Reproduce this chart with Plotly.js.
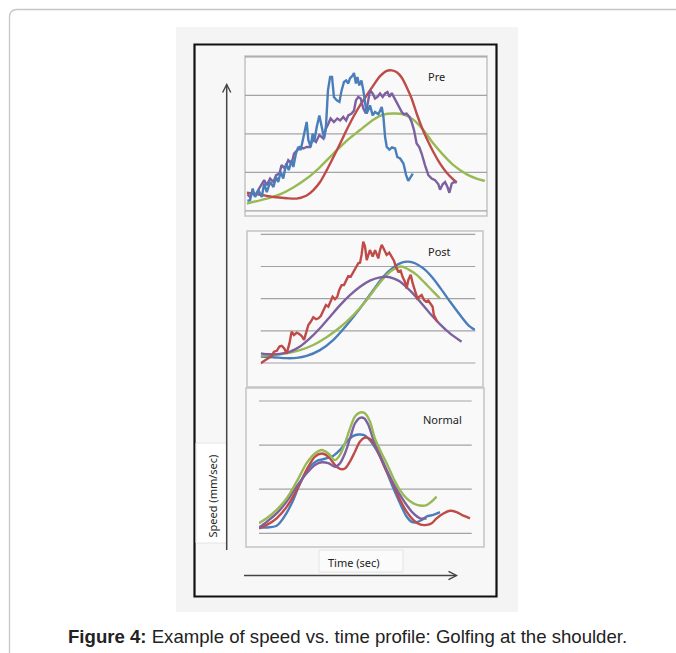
<!DOCTYPE html>
<html><head><meta charset="utf-8">
<script src="https://cdn.plot.ly/plotly-3.0.1.min.js"></script>
<style>html,body{margin:0;padding:0;background:#fff;overflow:hidden}#chart{width:676px;height:653px}</style>
</head><body><div id="chart"></div>
<script>
// ---------- DATA (time in % of swing, speed in grid units) ----------
// Pre
const preRedT = [0,5.6,11.2,16.7,20.9,25.1,27.9,30.7,33.5,36.3,39.1,41.8,44.6,47.4,50.2,53.0,55.8,58.6,60.7,62.8,64.9,66.9,69.0,71.1,73.2,75.3,78.1,80.9,83.7,86.5,87.9];
const preRedV = [0.47,0.42,0.36,0.33,0.32,0.40,0.54,0.75,1.06,1.40,1.75,2.10,2.44,2.74,3.00,3.26,3.50,3.64,3.65,3.60,3.46,3.22,2.92,2.53,2.18,1.88,1.53,1.23,0.99,0.81,0.74];
const preGreenT = [0,8.4,13.9,19.5,25.1,30.7,36.3,41.8,47.4,53.0,57.2,61.4,65.6,69.7,73.9,78.1,82.3,86.5,92.1,96.2,99.7];
const preGreenV = [0.19,0.32,0.43,0.61,0.84,1.14,1.49,1.82,2.10,2.37,2.50,2.53,2.51,2.37,2.10,1.75,1.45,1.19,0.95,0.84,0.78];
const preBlueT = [0.3,1.4,2.5,3.5,4.9,6.3,7.3,8.4,9.8,11.2,12.3,13.2,14.2,15.3,16.5,17.6,18.8,19.5,20.6,21.6,22.6,23.4,24.4,25.1,25.8,26.8,27.6,28.2,29.3,30.4,31.4,32.4,33.2,34.0,34.9,35.7,36.5,37.7,38.8,39.7,40.7,41.6,42.5,43.2,44.4,44.9,45.7,46.3,47.1,48.0,48.8,49.5,50.2,51.6,52.7,53.7,55.1,56.5,57.2,57.9,58.6,59.7,60.8,62.1,63.0,64.2,65.6,66.7,67.6,68.6,69.5];
const preBlueV = [0.26,0.28,0.58,0.36,0.54,0.36,0.71,0.49,0.75,0.62,0.88,0.75,1.01,0.84,1.23,1.06,1.32,1.14,1.49,1.66,1.58,1.84,2.10,2.31,1.84,1.66,2.01,1.79,2.18,2.48,2.18,1.88,2.23,3.13,3.48,3.48,2.96,2.87,2.83,3.13,3.35,3.39,3.31,3.44,3.52,3.58,3.31,3.48,3.26,3.39,3.13,2.87,2.53,2.74,2.48,2.57,2.51,2.70,2.44,1.92,1.66,1.59,1.65,1.62,1.40,1.36,1.23,0.93,0.78,0.88,0.97];
const prePurpleT = [0.3,1.4,2.5,3.5,4.9,6.3,7.3,8.4,9.8,11.2,12.3,13.7,14.6,16.0,17.4,18.8,19.8,21.2,22.3,23.7,25.1,26.5,27.6,29.0,30.4,32.1,33.2,34.2,35.1,36.5,37.9,39.1,40.4,41.6,42.5,43.9,44.9,45.7,46.7,47.7,48.8,49.9,50.9,51.6,52.7,53.7,54.7,55.8,56.9,57.9,58.9,59.7,60.7,61.6,62.8,63.9,64.9,65.8,66.9,68.1,69.0,70.0,71.1,72.2,73.2,74.6,76.0,77.4,78.8,80.2,80.9,82.0,83.0,84.0,84.8,85.8,86.8,87.9];
const prePurpleV = [0.43,0.36,0.49,0.38,0.55,0.71,0.80,0.67,0.84,0.75,0.93,0.97,1.19,1.10,1.32,1.23,1.49,1.58,1.66,1.62,1.66,1.66,1.88,1.79,1.97,1.88,2.14,2.27,2.40,2.31,2.40,2.35,2.44,2.35,2.48,2.53,2.61,2.87,2.96,2.92,2.66,2.53,2.96,3.13,3.05,2.92,2.96,3.05,2.96,3.05,3.09,2.96,3.06,2.96,2.79,2.70,2.57,2.51,2.53,2.44,2.31,2.10,1.75,1.66,1.49,1.19,0.93,0.84,0.80,0.69,0.55,0.69,0.75,0.62,0.47,0.71,0.75,0.74];
// Post
const postRedT = [0,2.0,3.6,5.1,6.2,7.5,8.7,9.8,10.9,12.1,13.4,14.4,15.5,16.8,18.0,19.1,20.2,21.1,22.2,23.3,24.5,25.8,26.9,28.0,29.2,30.4,31.5,32.6,33.5,34.6,35.7,36.6,37.7,38.8,39.8,40.8,41.9,42.9,43.9,44.7,45.5,46.3,47.0,47.8,48.6,49.4,50.2,50.9,52.2,53.3,54.0,54.8,55.6,56.4,57.5,58.7,59.9,61.0,62.1,63.0,64.1,65.2,66.1,67.2,68.0,68.8,69.9,70.8,71.9,73.0,73.9,75.0,76.1,77.0,78.1,79.2,80.1,80.7,81.7,82.3];
const postRedV = [-0.01,0.07,0.15,0.22,0.35,0.38,0.51,0.53,0.46,0.30,0.61,0.97,0.87,0.94,0.90,0.84,0.72,0.92,1.18,1.28,1.42,1.36,1.39,1.46,1.65,1.80,1.75,1.91,2.06,1.98,2.06,2.27,2.42,2.42,2.56,2.70,2.68,2.79,2.91,2.99,3.10,3.12,3.36,3.77,3.62,3.20,3.41,3.51,3.31,3.51,3.39,3.25,3.51,3.67,3.53,3.36,3.43,3.31,3.18,2.99,2.84,2.87,2.68,2.53,2.32,2.58,2.74,2.48,2.22,2.01,2.06,2.11,1.96,1.91,1.94,1.85,1.75,1.49,1.34,1.28];
const postBlueT = [0,5.9,12.1,16.8,21.4,27.6,33.9,40.1,46.3,52.5,57.1,61.8,65.7,68.8,71.9,75.8,79.7,83.5,88.2,92.9,96.7,99.8];
const postBlueV = [0.20,0.18,0.15,0.16,0.22,0.40,0.72,1.18,1.70,2.27,2.68,2.97,3.12,3.15,3.10,2.94,2.68,2.35,1.91,1.49,1.18,1.03];
const postGreenT = [0,5.9,12.1,18.3,24.5,30.7,37.0,43.2,49.4,54.0,58.7,62.6,65.7,68.8,72.7,76.6,80.4,83.5];
const postGreenV = [0.23,0.25,0.30,0.40,0.56,0.80,1.11,1.49,1.96,2.37,2.74,2.94,3.00,2.91,2.74,2.48,2.22,2.01];
const postPurpleT = [0,4.3,9.0,13.7,18.3,23.0,27.6,32.3,37.0,41.6,46.3,50.9,55.6,58.7,61.8,64.9,68.0,71.1,75.0,78.9,83.5,88.2,93.6];
const postPurpleV = [0.30,0.27,0.28,0.35,0.51,0.77,1.08,1.44,1.80,2.11,2.37,2.56,2.66,2.68,2.63,2.53,2.35,2.15,1.85,1.54,1.21,0.92,0.66];
// Normal
const normGreenT = [0,3.6,8.3,13.0,17.7,22.4,26.3,29.5,32.6,35.7,38.1,40.4,42.8,45.1,47.5,49.8,52.2,54.5,56.9,60.0,63.2,66.3,69.4,72.6,75.7,78.8,81.2,83.5];
const normGreenV = [0.23,0.34,0.53,0.79,1.17,1.59,1.81,1.89,1.81,1.66,1.78,2.04,2.38,2.65,2.74,2.72,2.53,2.15,1.89,1.59,1.25,0.98,0.79,0.68,0.63,0.64,0.72,0.83];
const normPurpleT = [0,3.6,8.3,13.0,17.7,22.4,26.3,29.5,32.6,35.7,38.1,40.4,42.8,45.1,47.5,49.4,51.4,53.8,56.9,60.0,63.2,66.3,69.4,72.6,75.7,78.8];
const normPurpleV = [0.13,0.26,0.45,0.72,1.06,1.36,1.55,1.61,1.59,1.51,1.59,1.81,2.15,2.49,2.62,2.61,2.46,2.12,1.78,1.44,1.13,0.87,0.64,0.45,0.34,0.34];
const normBlueT = [0,3.6,8.3,11.4,15.4,19.3,23.2,27.1,31.0,35.0,38.1,41.2,44.4,46.7,49.1,51.4,53.8,56.9,60.0,63.2,66.3,69.4,71.8,74.1,76.5,78.8,82.0,85.1];
const normBlueV = [0.13,0.13,0.17,0.34,0.68,1.13,1.47,1.64,1.69,1.76,1.89,2.08,2.21,2.24,2.23,2.15,2.00,1.74,1.40,1.02,0.68,0.38,0.26,0.25,0.30,0.38,0.42,0.48];
const normRedT = [0,3.6,8.3,13.0,17.7,22.4,26.3,29.5,32.6,35.7,38.1,40.4,42.8,45.1,47.5,49.8,52.2,54.5,56.9,60.0,63.2,66.3,69.4,72.6,75.7,78.8,81.2,83.5,86.7,89.8,92.9,96.1,99.2];
const normRedV = [0.11,0.19,0.34,0.60,0.98,1.44,1.74,1.81,1.74,1.55,1.46,1.47,1.63,1.85,2.08,2.17,2.14,2.00,1.74,1.40,1.10,0.76,0.49,0.30,0.20,0.19,0.23,0.34,0.45,0.51,0.48,0.40,0.34];

const panelLabels = ["Pre","Post","Normal"];
const yTitle = "Speed (mm/sec)";
const xTitle = "Time (sec)";
const caption = "<b>Figure 4:</b> Example of speed vs. time profile: Golfing at the shoulder.";

// ---------- LAYOUT HELPERS ----------
const W=676,H=653;
const fx=p=>p/W, fy=p=>1-p/H;
const C={blue:"#4a7ebb",red:"#be4b48",green:"#98b954",purple:"#7d60a0"};

// panel geometry: pixel of x=0, x=100, y=0, y=top, top value
const panels=[
  {xL:246.7,xR:485.7,yB:210.9,yT:56.9,top:4,box:[245,56,487,216],grid:[245,487]},
  {xL:260.7,xR:475.3,yB:363.0,yT:234.3,top:4,box:[247,231,483,387],grid:[260.7,475.3]},
  {xL:259.0,xR:471.7,yB:533.3,yT:401.0,top:3,box:[246,388,484,547],grid:[259,471.7]}
];
const layout={width:W,height:H,margin:{l:0,r:0,t:0,b:0},paper_bgcolor:"#ffffff",plot_bgcolor:"rgba(0,0,0,0)",
  showlegend:false,shapes:[],annotations:[],font:{family:"Noto Sans, Open Sans, sans-serif",color:"#222"}};

function px2(x,y){return fx(x).toFixed(5)+","+fy(y).toFixed(5);}
// card border
layout.shapes.push({type:"path",xref:"paper",yref:"paper",layer:"below",
  path:"M"+px2(9.5,700)+" L"+px2(9.5,17)+" Q"+px2(9.5,9.5)+" "+px2(17,9.5)+" L"+px2(720,9.5),
  line:{color:"#c6c6c6",width:1.3}});
// image background
layout.shapes.push({type:"rect",xref:"paper",yref:"paper",layer:"below",x0:fx(176),x1:fx(518),y0:fy(27),y1:fy(612),fillcolor:"#f4f4f4",line:{width:0}});
// black frame
layout.shapes.push({type:"rect",xref:"paper",yref:"paper",layer:"below",x0:fx(194.5),x1:fx(496.5),y0:fy(44.5),y1:fy(596.5),fillcolor:"#f7f7f7",line:{color:"#111",width:2.2}});

const traces=[];
panels.forEach((p,i)=>{
  const n=i===0?"":String(i+1);
  const unit=(p.yB-p.yT)/p.top;
  const ylo=-0.15, yhi=p.top+0.12;
  const pixLo=p.yB+(0-ylo)*unit, pixHi=p.yT-(yhi-p.top)*unit;
  layout["xaxis"+n]={domain:[fx(p.xL),fx(p.xR)],range:[0,100],visible:false,anchor:"y"+n,fixedrange:true};
  layout["yaxis"+n]={domain:[fy(pixLo),fy(pixHi)],range:[ylo,yhi],visible:false,anchor:"x"+n,fixedrange:true};
  const b=p.box;
  layout.shapes.push({type:"rect",xref:"paper",yref:"paper",layer:"below",x0:fx(b[0]),x1:fx(b[2]),y0:fy(b[1]),y1:fy(b[3]),fillcolor:"#f9f9f9",line:{color:"#c4c4c4",width:1.5}});
  for(let k=0;k<=p.top;k++){
    layout.shapes.push({type:"line",xref:"paper",yref:"y"+n,layer:"below",x0:fx(p.grid[0]),x1:fx(p.grid[1]),y0:k,y1:k,line:{color:"#a3a3a3",width:1.2}});
  }
});

function tr(t,v,color,ax,smooth){
  traces.push({x:t,y:v,type:"scatter",mode:"lines",xaxis:"x"+ax,yaxis:"y"+ax,hoverinfo:"skip",
    line:{color:color,width:2.4,shape:smooth?"spline":"linear",smoothing:0.8}});
}
tr(preGreenT,preGreenV,C.green,"",true);
tr(preRedT,preRedV,C.red,"",true);
tr(prePurpleT,prePurpleV,C.purple,"",false);
tr(preBlueT,preBlueV,C.blue,"",false);
tr(postBlueT,postBlueV,C.blue,"2",true);
tr(postGreenT,postGreenV,C.green,"2",true);
tr(postPurpleT,postPurpleV,C.purple,"2",true);
tr(postRedT,postRedV,C.red,"2",false);
tr(normBlueT,normBlueV,C.blue,"3",true);
tr(normRedT,normRedV,C.red,"3",true);
tr(normPurpleT,normPurpleV,C.purple,"3",true);
tr(normGreenT,normGreenV,C.green,"3",true);

// panel labels
const labelPos=[[436,76],[439,251],[442,419]];
panelLabels.forEach((s,i)=>layout.annotations.push({xref:"paper",yref:"paper",x:fx(labelPos[i][0]),y:fy(labelPos[i][1]),text:s,showarrow:false,xanchor:"center",yanchor:"middle",font:{size:11,color:"#222"}}));

// axis label boxes
layout.shapes.push({type:"rect",xref:"paper",yref:"paper",layer:"below",x0:fx(196),x1:fx(226.7),y0:fy(443),y1:fy(543),fillcolor:"#ffffff",line:{color:"#e4e4e4",width:1}});
layout.shapes.push({type:"rect",xref:"paper",yref:"paper",layer:"below",x0:fx(319),x1:fx(403),y0:fy(550),y1:fy(572),fillcolor:"#fbfbfb",line:{color:"#e4e4e4",width:1}});
// arrows
layout.shapes.push({type:"line",xref:"paper",yref:"paper",x0:fx(226.7),x1:fx(226.7),y0:fy(84.5),y1:fy(550),line:{color:"#444",width:1.5}});
layout.shapes.push({type:"path",xref:"paper",yref:"paper",path:"M"+px2(222.6,92.5)+" L"+px2(226.7,84.5)+" L"+px2(230.8,92.5),line:{color:"#444",width:1.4}});
layout.shapes.push({type:"line",xref:"paper",yref:"paper",x0:fx(244),x1:fx(456.5),y0:fy(575.5),y1:fy(575.5),line:{color:"#444",width:1.5}});
layout.shapes.push({type:"path",xref:"paper",yref:"paper",path:"M"+px2(448.5,571.3)+" L"+px2(456.5,575.5)+" L"+px2(448.5,579.7),line:{color:"#444",width:1.4}});

layout.annotations.push({xref:"paper",yref:"paper",x:fx(211.5),y:fy(496),text:yTitle,textangle:-90,showarrow:false,xanchor:"center",yanchor:"middle",font:{size:11,color:"#222"}});
layout.annotations.push({xref:"paper",yref:"paper",x:fx(353.5),y:fy(562.5),text:xTitle,showarrow:false,xanchor:"center",yanchor:"middle",font:{size:11,color:"#222"}});
layout.annotations.push({xref:"paper",yref:"paper",x:fx(347.5),y:fy(636),text:caption,showarrow:false,xanchor:"center",yanchor:"middle",font:{family:"Liberation Sans, Arial, sans-serif",size:18.6,color:"#222"}});

Plotly.newPlot("chart",traces,layout,{staticPlot:true,displayModeBar:false});
</script></body></html>
